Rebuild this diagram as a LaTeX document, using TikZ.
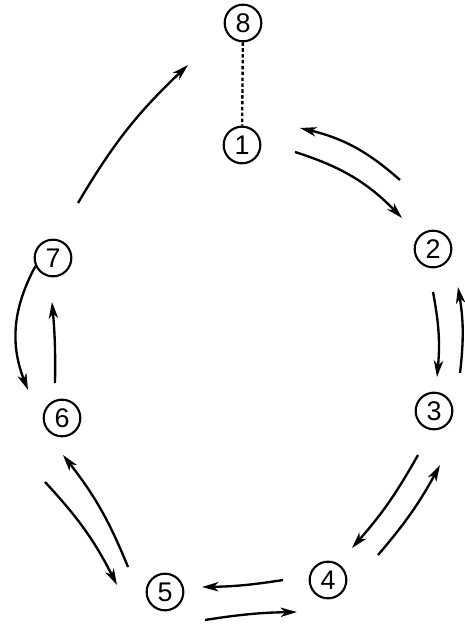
\documentclass[tikz,border=0pt]{standalone}
\usepackage{fontspec}
\setmainfont{Liberation Sans}
\usetikzlibrary{arrows.meta}
\begin{document}
\begin{tikzpicture}[x=0.03cm,y=-0.03cm,
  stanje/.style={draw,circle,line width=1.8pt,minimum size=1.1cm,inner sep=0pt,font=\fontsize{23}{23}\selectfont},
  prijelaz/.style={line width=2pt,-{Stealth[length=14pt,width=8pt,inset=4pt]}}]

\useasboundingbox (0,0) rectangle (464,629);

\node[stanje] (n8) at (243,23) {8};
\node[stanje] (n1) at (242,145) {1};
\node[stanje] (n2) at (433,249) {2};
\node[stanje] (n3) at (434,411) {3};
\node[stanje] (n4) at (328,580) {4};
\node[stanje] (n5) at (165,592) {5};
\node[stanje] (n6) at (62,418) {6};
\node[stanje] (n7) at (53,258) {7};

\coordinate (a12) at (295,152); \coordinate (b12) at (402,218);
\coordinate (a21) at (400,180); \coordinate (b21) at (300,128);
\coordinate (a23) at (433,292); \coordinate (b23) at (437,377);
\coordinate (a32) at (460,373); \coordinate (b32) at (458,287);
\coordinate (a34) at (418,455); \coordinate (b34) at (352,548);
\coordinate (a43) at (378,555); \coordinate (b43) at (440,465);
\coordinate (a45) at (283,580); \coordinate (b45) at (202,587);
\coordinate (a54) at (205,620); \coordinate (b54) at (297,612);
\coordinate (a56) at (128,567); \coordinate (b56) at (63,455);
\coordinate (a65) at (45,482);  \coordinate (b65) at (117,585);
\coordinate (a67) at (55,383);  \coordinate (b67) at (52,302);
\coordinate (b76) at (28,390);
\coordinate (a78) at (78,203);  \coordinate (b78) at (188,65);

\draw[line width=2pt,dash pattern=on 3pt off 2pt] (n8) -- (n1);

\draw[prijelaz] (a12) to[bend left=14] (b12);
\draw[prijelaz] (a21) to[bend right=14] (b21);
\draw[prijelaz] (a23) to[bend left=8] (b23);
\draw[prijelaz] (a32) to[bend right=8] (b32);
\draw[prijelaz] (a34) to[bend left=6] (b34);
\draw[prijelaz] (a43) to[bend right=6] (b43);
\draw[prijelaz] (a45) to[bend left=4] (b45);
\draw[prijelaz] (a54) to[bend left=4] (b54);
\draw[prijelaz] (a56) to[bend right=8] (b56);
\draw[prijelaz] (a65) to[bend left=8] (b65);
\draw[prijelaz] (a67) to[bend right=3] (b67);
\draw[prijelaz] (n7.205) to[bend right=25] (b76);
\draw[prijelaz] (a78) to[bend left=8] (b78);
\end{tikzpicture}
\end{document}
